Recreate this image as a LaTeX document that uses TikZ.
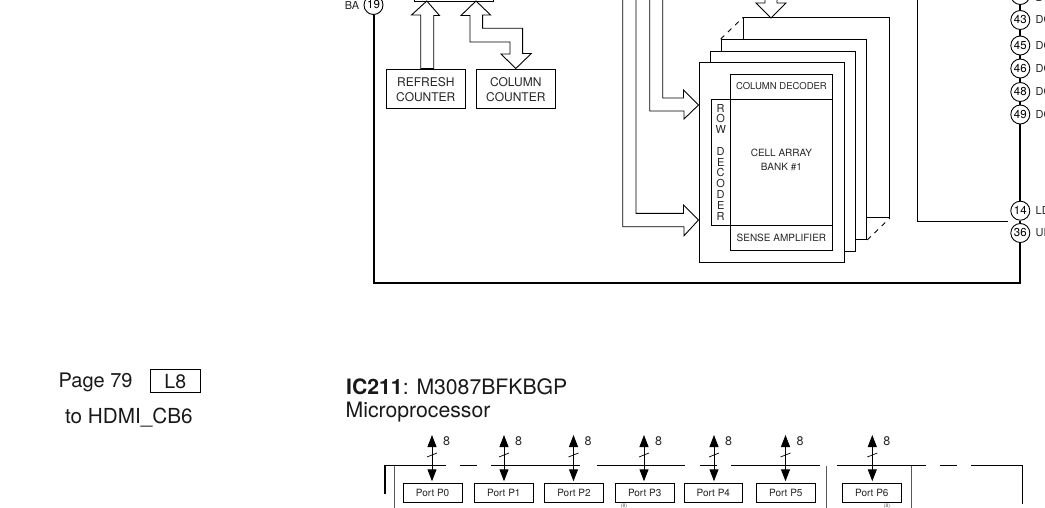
\documentclass[tikz,border=0pt]{standalone}
\usepackage{fontspec}
\setmainfont{TeX Gyre Heros}
\usetikzlibrary{arrows.meta,positioning,calc}
\newcommand{\fsz}[1]{\fontsize{#1}{#1}\selectfont}
\tikzset{
  plainbox/.style={draw=black, line width=0.9pt, fill=white, inner sep=0pt, align=center,
                   text=black!85, font=\fsz{12}},
  countbox/.style={plainbox, minimum width=79pt, minimum height=39.5pt},
  bankbox/.style={plainbox, minimum width=145.7pt, minimum height=200pt},
  partbox/.style={plainbox, font=\fsz{10}},
  portbox/.style={plainbox, minimum width=58.7pt, minimum height=18.6pt, font=\fsz{10}},
  pinnode/.style={circle, draw=black, line width=0.9pt, fill=white, inner sep=0pt,
                  minimum size=19pt, font=\fsz{11.5}},
  pinlabel/.style={anchor=west, inner sep=0pt, font=\fsz{11}, text=black!85},
  blockarr/.style={draw=black, line width=0.9pt, fill=white, line join=miter},
  thinbus/.style={line width=0.9pt, draw=black},
  heavybus/.style={line width=1.7pt, draw=black},
  mainbus/.style={line width=2pt, draw=black},
  dashedge/.style={line width=0.9pt, dash pattern=on 5pt off 5pt},
  portarr/.style={{Triangle[length=12pt,width=9pt]}-{Triangle[length=12pt,width=9pt]},
                  line width=1pt, shorten >=2pt},
  slashmark/.style={line width=0.7pt},
  rail/.style={line width=1.5pt, draw=black},
  sidewall/.style={line width=0.8pt, draw=black!65},
  bigtext/.style={anchor=west, inner sep=0pt, font=\fsz{20}, text=black!90},
  widthlabel/.style={inner sep=0pt, font=\fsz{12.5}, text=black!85},
  tinylabel/.style={inner sep=0pt, font=\fsz{5}, text=black!70}}
\begin{document}
\begin{tikzpicture}[x=1pt, y=-1pt]
    \path[use as bounding box, clip] (0,0) rectangle (1045,507);
    % memory block
    \node[plainbox, minimum width=79pt, minimum height=40pt] (ctrl) at (453.5,-19) {};
    \node[countbox] (refresh) at (425.8,88.7) {};
    \node[inner sep=0pt, align=center, font=\fsz{12}, text=black!85] (refreshtext) at (425.8,90) {REFRESH\\[3pt]COUNTER};
    \node[countbox] (column) at (515.8,88.7) {};
    \node[inner sep=0pt, align=center, font=\fsz{12}, text=black!85] (columntext) at (515.8,90) {COLUMN\\[3pt]COUNTER};
    \draw[blockarr] ([xshift=-5.1pt]refresh.north) -- ++(0,-53.5) -- ++(-9.2,0)
      -- (426.8,1) -- ++(12.7,14.5) -- ++(-5.8,0)
      -- ([xshift=7.9pt]refresh.north) -- cycle;
    \draw[blockarr] (column.north) -- ++(15.5,-15) -- ++(-8.7,0) -- ++(0,-25.3) -- ++(-40,0)
      -- ++(0,-13.2) -- ++(8,0) -- (476,1) -- ++(-15,14.5) -- ++(9,0) -- ++(0,26.5)
      -- ++(40,0) -- ++(0,12) -- ++(-9,0) -- cycle;
    \node[bankbox] (bank4) at (816.4,117.8) {};
    \node[bankbox] (bank3) at (794,139.5) {};
    \node[bankbox] (bank2) at (783,151.1) {};
    \node[bankbox] (bank1) at (771.8,162) {};
    \node[partbox, minimum width=102.7pt, minimum height=25pt, font=\fsz{9.5}] (coldec) at (781.4,86.5) {COLUMN DECODER};
    \node[partbox, minimum width=102.7pt, minimum height=126pt] (cells) at (781.4,162) {};
    \node[inner sep=0pt, align=center, font=\fsz{10}, text=black!85] (celltext) at (781.4,159.7) {CELL ARRAY\\[4pt]BANK \#1};
    \node[partbox, minimum width=102.7pt, minimum height=25pt] (sense) at (781.4,237.5) {SENSE AMPLIFIER};
    \node[plainbox, minimum width=18.5pt, minimum height=126pt, font=\fontsize{11}{10.8}\selectfont] (rowdec)
      at (720.7,162) {R\\O\\W\\~\\D\\E\\C\\O\\D\\E\\R};
    \draw[dashedge] (bank3.north west) -- (bank4.north west);
    \draw[dashedge] (bank3.south east) -- (bank4.south east);
    % block arrows coming down from the top
    \draw[blockarr] (771,18) -- ++(-15,-15) -- ++(9,0) -- ++(0,-10) -- ++(12,0) -- ++(0,10) -- ++(9,0) -- cycle;
    \draw[blockarr] (bank1.west |- 0,105) -- ++(-15,-15) -- ++(0,8) -- (662.7,98) -- (662.7,-5) -- (649.7,-5)
      -- (649.7,111) -- ++(34.3,0) -- ++(0,8) -- cycle;
    \draw[blockarr] (bank1.west |- 0,220) -- ++(-15,-15) -- ++(0,8.3) -- (636,213.3) -- (636,-5) -- (622.7,-5)
      -- (622.7,226.7) -- ++(61.3,0) -- ++(0,9) -- cycle;
    % pins
    \node[pinnode] (ba) at (373.5,5) {19};
    \node[pinlabel, anchor=east] (balabel) at (359.5,5) {BA};
    \node[pinnode] (pin42) at (1020.3,-5) {42};
    \node[pinnode] (pin43) at (1020.3,20) {43};
    \node[pinnode] (pin45) at (1020.3,45.5) {45};
    \node[pinnode] (pin46) at (1020.3,68.5) {46};
    \node[pinnode] (pin48) at (1020.3,92) {48};
    \node[pinnode] (pin49) at (1020.3,114.5) {49};
    \node[pinnode] (pin14) at (1020.3,210.7) {14};
    \node[pinnode] (pin36) at (1020.3,233) {36};
    \node[pinlabel] (l42) at (1035.5,-2.5) {DQ};
    \node[pinlabel] (l43) at (1035.5,20) {DQ};
    \node[pinlabel] (l45) at (1035.5,45.5) {DQ};
    \node[pinlabel] (l46) at (1035.5,68.5) {DQ};
    \node[pinlabel] (l48) at (1035.5,92) {DQ};
    \node[pinlabel] (l49) at (1035.5,114.5) {DQ};
    \node[pinlabel] (l14) at (1035.5,210.7) {LD};
    \node[pinlabel] (l36) at (1035.5,233) {UD};
    \draw[heavybus] (pin42) -- (pin43);
    \draw[heavybus] (pin43) -- (pin45);
    \draw[heavybus] (pin45) -- (pin46);
    \draw[heavybus] (pin46) -- (pin48);
    \draw[heavybus] (pin48) -- (pin49);
    \draw[heavybus] (pin49) -- (pin14);
    \draw[heavybus] (pin14) -- (pin36);
    \coordinate (buscorner) at (1020.3,283);
    \draw[mainbus] (ba) |- (buscorner) -- (pin36);
    \coordinate (ldqm) at (1008,221.3);
    \draw[thinbus] (ldqm) -| (917.3,-5);
    % page reference
    \node[bigtext] (pageref) at (58.5,382) {Page 79};
    \node[plainbox, minimum width=50pt, minimum height=23.7pt] (l8) at (175.3,381) {};
    \node[inner sep=0pt, font=\fsz{19.5}, text=black!90] (l8text) at (175.3,382) {L8};
    \node[bigtext, font=\fsz{20.7}] (hdmi) at (65,418) {to HDMI\_CB6};
    % processor
    \node[bigtext, font=\fsz{21.2}] (ic) at (346,387) {\textbf{IC211}: M3087BFKBGP};
    \node[bigtext, font=\fsz{21.2}] (cpu) at (345.5,412.5) {Microprocessor};
    \draw[rail] (385,494) |- (446,465.3);
    \draw[rail] (460,465.3) -- (477.3,465.3);
    \draw[rail] (491.3,465.3) -- (580,465.3);
    \draw[rail] (596.7,465.3) -- (685.3,465.3);
    \draw[rail] (700,465.3) -- (716.7,465.3);
    \draw[rail] (731.3,465.3) -- (820,465.3);
    \draw[rail] (836.7,465.3) -- (925.7,465.3);
    \draw[rail] (940,465.3) -- (956.7,465.3);
    \draw[rail] (971.3,465.3) -| (1022.3,504);
    \draw[sidewall] (394.3,466) -- (394.3,510);
    \draw[sidewall] (826.7,466) -- (826.7,510);
    \draw[sidewall] (911.7,466) -- (911.7,510);
    \node[portbox] (p0) at (432.6,493) {Port P0};
    \node[portbox] (p1) at (503.8,493) {Port P1};
    \node[portbox] (p2) at (574,493) {Port P2};
    \node[portbox] (p3) at (644.7,493) {Port P3};
    \node[portbox] (p4) at (713.3,493) {Port P4};
    \node[portbox] (p5) at (785.8,493) {Port P5};
    \node[portbox] (p6) at (871.8,493) {Port P6};
    \coordinate (t0) at (432,435);
    \coordinate (t1) at (504,435);
    \coordinate (t2) at (573.5,435);
    \coordinate (t3) at (644,435);
    \coordinate (t4) at (714,435);
    \coordinate (t5) at (785.5,435);
    \coordinate (t6) at (872.3,435);
    \draw[portarr] (t0) -- (t0 |- p0.north);
    \draw[portarr] (t1) -- (t1 |- p1.north);
    \draw[portarr] (t2) -- (t2 |- p2.north);
    \draw[portarr] (t3) -- (t3 |- p3.north);
    \draw[portarr] (t4) -- (t4 |- p4.north);
    \draw[portarr] (t5) -- (t5 |- p5.north);
    \draw[portarr] (t6) -- (t6 |- p6.north);
    \draw[slashmark] ($(t0)+(-5,22)$) -- ($(t0)+(5,18)$);
    \draw[slashmark] ($(t1)+(-5,22)$) -- ($(t1)+(5,18)$);
    \draw[slashmark] ($(t2)+(-5,22)$) -- ($(t2)+(5,18)$);
    \draw[slashmark] ($(t3)+(-5,22)$) -- ($(t3)+(5,18)$);
    \draw[slashmark] ($(t4)+(-5,22)$) -- ($(t4)+(5,18)$);
    \draw[slashmark] ($(t5)+(-5,22)$) -- ($(t5)+(5,18)$);
    \draw[slashmark] ($(t6)+(-5,22)$) -- ($(t6)+(5,18)$);
    \node[widthlabel] (w0) at ($(t0)+(14.5,6.5)$) {8};
    \node[widthlabel] (w1) at ($(t1)+(14.5,6.5)$) {8};
    \node[widthlabel] (w2) at ($(t2)+(14.5,6.5)$) {8};
    \node[widthlabel] (w3) at ($(t3)+(14.5,6.5)$) {8};
    \node[widthlabel] (w4) at ($(t4)+(14.5,6.5)$) {8};
    \node[widthlabel] (w5) at ($(t5)+(14.5,6.5)$) {8};
    \node[widthlabel] (w6) at ($(t6)+(14.5,6.5)$) {8};
    \node[tinylabel] (n3) at (624,506) {(8)};
    \node[tinylabel] (n6) at (887,506) {(8)};
  \end{tikzpicture}
\end{document}
